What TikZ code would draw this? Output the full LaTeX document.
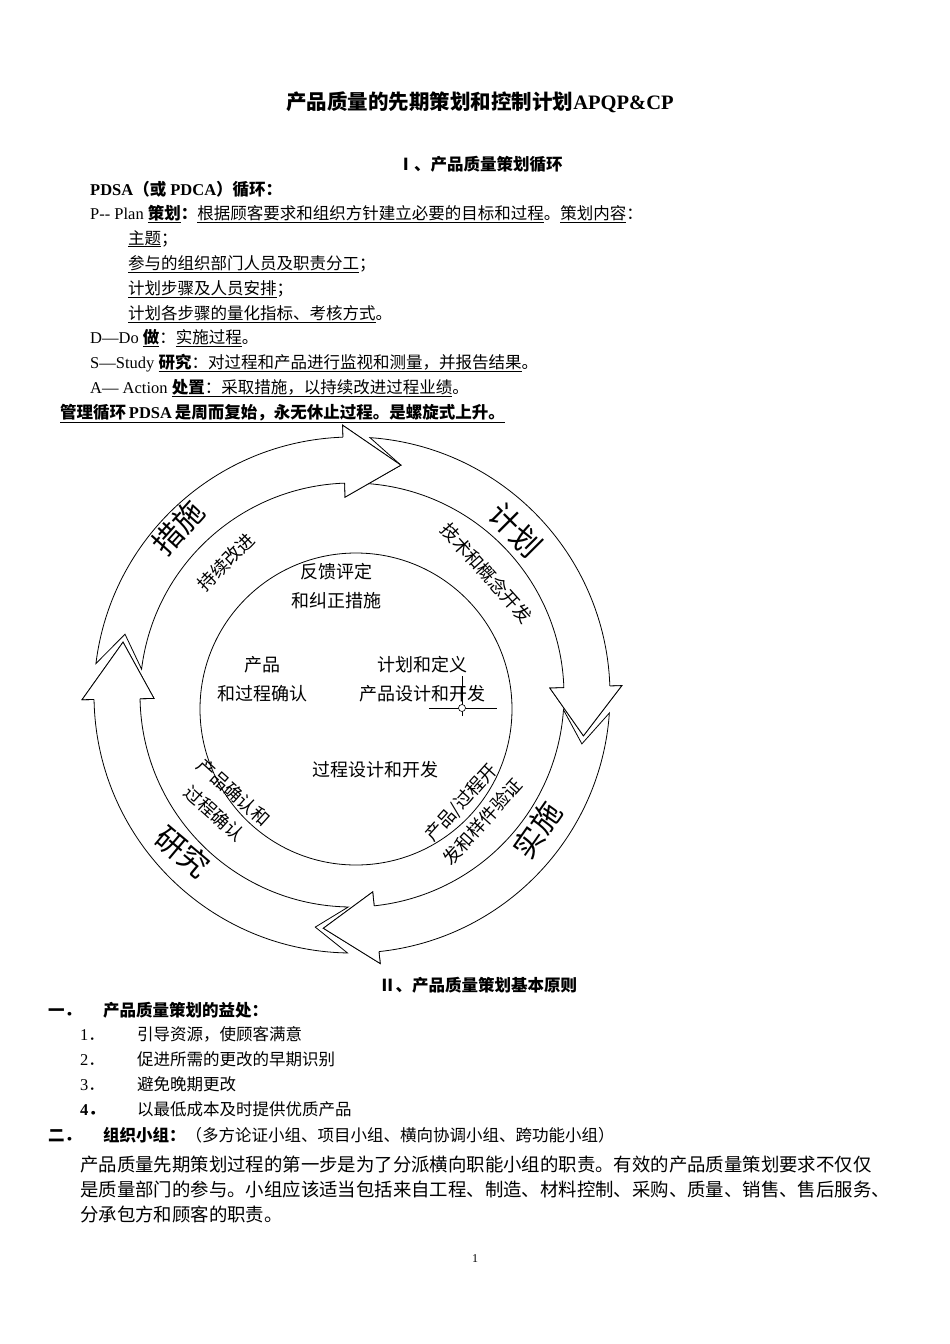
\documentclass[tikz,border=0pt]{standalone}
\usepackage{fontspec}
\newfontfamily\cjk{Noto Sans CJK SC}
\newfontfamily\lat{Liberation Serif}
\begin{document}
\begin{tikzpicture}[x=1pt,y=-1pt,
  txt/.style={anchor=base west,inner sep=0,font=\cjk\fontsize{16.5}{18}\selectfont},
  bld/.style={txt,font=\cjk\bfseries\fontsize{16.5}{18}\selectfont},
  big/.style={inner sep=0,font=\cjk\fontsize{30}{32}\selectfont},
  ring/.style={inner sep=0,font=\cjk\fontsize{18}{29}\selectfont,align=center},
  inn/.style={inner sep=0,font=\cjk\fontsize{18}{29}\selectfont,align=center},
  arr/.style={draw=black,fill=white,line width=0.8pt,line join=miter}]
\useasboundingbox[fill=white] (0,0) rectangle (950,1344);
% text above
\node[anchor=base,inner sep=0,font=\cjk\bfseries\fontsize{20.5}{22}\selectfont] (title) at (480,109) {产品质量的先期策划和控制计划{\lat APQP\&CP}};
\node[anchor=base,inner sep=0,font=\cjk\bfseries\fontsize{16.5}{18}\selectfont] (h1) at (480,170) {Ⅰ、产品质量策划循环};
\node[bld] (l1) at (90,195) {{\lat PDSA}（或{\lat\ PDCA}）循环：};
\node[txt] (l2) at (90,219) {{\lat P-- Plan }\underline{\textbf{策划}}\textbf{：}\underline{根据顾客要求和组织方针建立必要的目标和过程}。\underline{策划内容}：};
\node[txt] (l3) at (128,244) {\underline{主题}；};
\node[txt] (l4) at (128,269) {\underline{参与的组织部门人员及职责分工}；};
\node[txt] (l5) at (128,294) {\underline{计划步骤及人员安排}；};
\node[txt] (l6) at (128,319) {\underline{计划各步骤的量化指标、考核方式}。};
\node[txt] (l7) at (90,343) {{\lat D—Do }\underline{\textbf{做}}：\underline{实施过程}。};
\node[txt] (l8) at (90,368) {{\lat S—Study }\underline{\textbf{研究}：对过程和产品进行监视和测量，并报告结果}。};
\node[txt] (l9) at (90,393) {{\lat A— Action }\underline{\textbf{处置}：采取措施，以持续改进过程业绩}。};
\node[bld] (l10) at (60,418) {\underline{管理循环{\lat\,PDSA\,}是周而复始，永无休止过程。是螺旋式上升。}};
% diagram
\begin{scope}[shift={(352,695)},yscale=-1]
\def\Ra{258}\def\Rb{212}\def\Rm{235}\def\Ho{270}\def\Hi{198}
\foreach \s/\b/\t in {86/2/-10, -4/-84/-97, -91/-179/-193, 173/92/78}{
  \pgfmathsetmacro\n{\s-8}
  \draw[arr] (\s:\Ra) arc[start angle=\s,end angle=\b,radius=\Ra] -- (\b:\Ho) -- (\t:\Rm) -- (\b:\Hi) -- (\b:\Rb)
     arc[start angle=\b,end angle=\s,radius=\Rb] -- (\n:\Rm) -- cycle;
}
\foreach \b/\t in {2/-10, -84/-97, -179/-193, 92/78}{
  \fill[white] (\b:\Ra) -- (\b:\Ho) -- (\t:\Rm) -- (\b:\Hi) -- (\b:\Rb) -- cycle;
  \draw[line width=0.8pt,line join=miter] (\b:\Ra) -- (\b:\Ho) -- (\t:\Rm) -- (\b:\Hi) -- (\b:\Rb);
}
\draw[line width=0.8pt] (4,-14) circle[radius=156];
\end{scope}
\node[big,rotate=-45] (jh) at (516,530) {计划};
\node[big,rotate=48] (cs) at (178,528) {措施};
\node[big,rotate=-40] (yj) at (183,852) {研究};
\node[big,rotate=55] (ss) at (537,830) {实施};
\node[ring,rotate=-48] (js) at (487,573) {技术和概念开发};
\node[ring,rotate=45] (cx) at (226,562) {持续改进};
\node[ring,rotate=-42] (cq) at (224,803) {产品确认和\\过程确认};
\node[ring,rotate=48] (cg) at (472,812) {产品/过程开\\发和样件验证};
\node[inn] (fk) at (336,586) {反馈评定\\和纠正措施};
\node[inn] (cp) at (262,679) {产品\\和过程确认};
\node[inn] (jd) at (422,679) {计划和定义\\产品设计和开发};
\node[inn] (gc) at (375,770) {过程设计和开发};
\coordinate (ch) at (462,708);
\draw[line width=0.6pt] ([xshift=-33]ch) -- ([xshift=35]ch) ([yshift=-8]ch) -- ([yshift=32]ch);
\draw[line width=0.6pt,fill=white] (ch) circle[radius=3.5];
% text below
\node[anchor=base,inner sep=0,font=\cjk\bfseries\fontsize{16.5}{18}\selectfont] (h2) at (478,991) {Ⅱ、产品质量策划基本原则};
\node[bld] (y1) at (48,1016) {一．};
\node[bld] (y1t) at (103,1016) {产品质量策划的益处：};
\node[txt] (n1) at (80,1040) {{\lat 1}．};\node[txt] (t1) at (137,1040) {引导资源，使顾客满意};
\node[txt] (n2) at (80,1065) {{\lat 2}．};\node[txt] (t2) at (137,1065) {促进所需的更改的早期识别};
\node[txt] (n3) at (80,1090) {{\lat 3}．};\node[txt] (t3) at (137,1090) {避免晚期更改};
\node[bld] (n4) at (80,1115) {{\lat\bfseries 4}．};\node[txt] (t4) at (137,1115) {以最低成本及时提供优质产品};
\node[bld] (y2) at (48,1141) {二．};
\node[txt] (y2t) at (103,1141) {\textbf{组织小组：}（多方论证小组、项目小组、横向协调小组、跨功能小组）};
\node[txt,font=\cjk\fontsize{18.4}{20}\selectfont] (p1) at (80,1171) {产品质量先期策划过程的第一步是为了分派横向职能小组的职责。有效的产品质量策划要求不仅仅};
\node[txt,font=\cjk\fontsize{18.4}{20}\selectfont] (p2) at (80,1196) {是质量部门的参与。小组应该适当包括来自工程、制造、材料控制、采购、质量、销售、售后服务、};
\node[txt,font=\cjk\fontsize{18.4}{20}\selectfont] (p3) at (80,1221) {分承包方和顾客的职责。};
\node[anchor=base,inner sep=0,font=\lat\fontsize{12}{12}\selectfont] (pg) at (475,1262) {1};
\end{tikzpicture}
\end{document}
